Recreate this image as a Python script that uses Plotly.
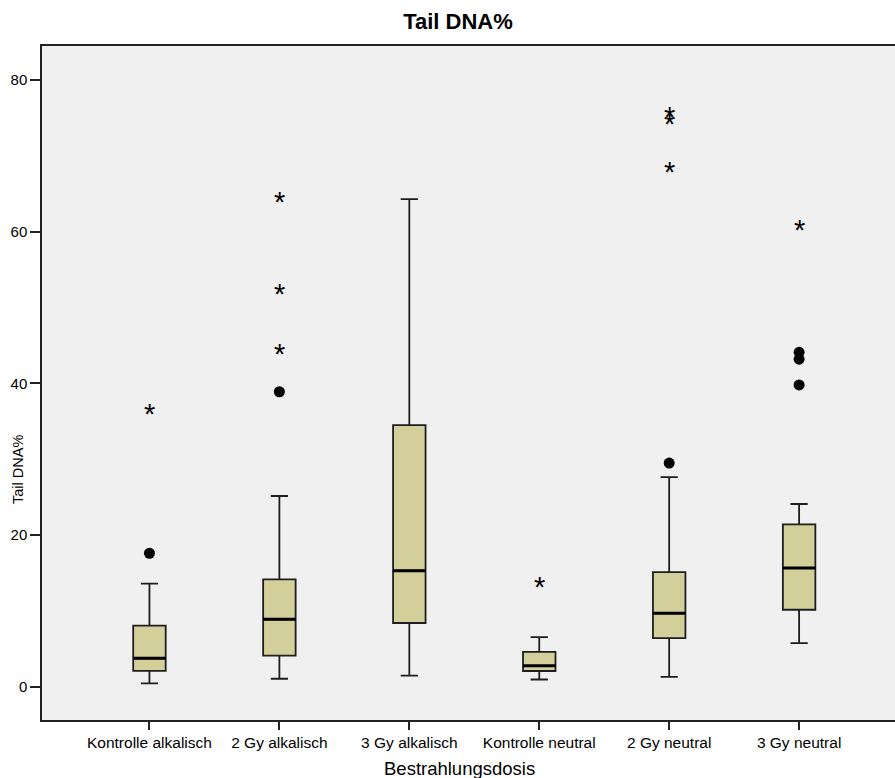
import plotly.graph_objects as go

categories = ["Kontrolle alkalisch", "2 Gy alkalisch", "3 Gy alkalisch",
              "Kontrolle neutral", "2 Gy neutral", "3 Gy neutral"]
q1 = [2.1, 4.1, 8.4, 2.07, 6.4, 10.15]
median = [3.75, 8.9, 15.3, 2.75, 9.7, 15.65]
q3 = [8.05, 14.15, 34.5, 4.6, 15.1, 21.4]
lower_whisker = [0.45, 1.05, 1.45, 0.95, 1.3, 5.75]
upper_whisker = [13.6, 25.15, 64.3, 6.55, 27.65, 24.1]

# outliers (circles) and extreme values (stars)
circle_cat = ["Kontrolle alkalisch", "2 Gy alkalisch", "2 Gy neutral",
              "3 Gy neutral", "3 Gy neutral", "3 Gy neutral"]
circle_val = [17.6, 38.9, 29.5, 44.1, 43.2, 39.8]
star_cat = ["Kontrolle alkalisch", "2 Gy alkalisch", "2 Gy alkalisch", "2 Gy alkalisch",
            "Kontrolle neutral", "2 Gy neutral", "2 Gy neutral", "2 Gy neutral",
            "3 Gy neutral"]
star_val = [36.5, 64.4, 52.3, 44.4, 13.7, 75.6, 74.7, 68.4, 60.7]

FONT = "Liberation Sans, Arial, sans-serif"
W, H = 895, 778
ML, MR, MT, MB = 42, 0, 46, 58

fig = go.Figure()
fig.add_trace(go.Box(
    x=categories, q1=q1, median=median, q3=q3,
    lowerfence=lower_whisker, upperfence=upper_whisker,
    width=0.25, whiskerwidth=0.53, boxpoints=False,
    fillcolor="#D3CF9B", line=dict(color="#1e1e1e", width=1.8),
    showlegend=False, hoverinfo="skip"))
# thicker median line
fig.add_trace(go.Box(
    x=categories, q1=median, median=median, q3=median,
    lowerfence=median, upperfence=median,
    width=0.25, whiskerwidth=0, boxpoints=False,
    fillcolor="rgba(0,0,0,0)", line=dict(color="#000000", width=3),
    showlegend=False, hoverinfo="skip"))
fig.add_trace(go.Scatter(
    x=circle_cat, y=circle_val, mode="markers",
    marker=dict(symbol="circle", size=11, color="#000000"),
    showlegend=False, hoverinfo="skip"))

for c, v in zip(star_cat, star_val):
    fig.add_annotation(x=c, y=v, text="*", showarrow=False,
                       font=dict(family=FONT, size=29, color="#000"),
                       xanchor="center", yanchor="middle", yshift=-4)

pw = W - ML - MR
ph = H - MT - MB
# y axis title
fig.add_annotation(x=(18 - ML) / pw, y=(H - MB - 470) / ph, xref="paper", yref="paper",
                   text="Tail DNA%", textangle=-90, showarrow=False,
                   xanchor="center", yanchor="middle",
                   font=dict(family=FONT, size=14.5, color="#000"))
# x axis title
fig.add_annotation(x=(459 - ML) / pw, y=(H - MB - 768) / ph, xref="paper", yref="paper",
                   text="Bestrahlungsdosis", showarrow=False,
                   xanchor="center", yanchor="middle",
                   font=dict(family=FONT, size=18.5, color="#000"))

fig.update_layout(
    width=W, height=H,
    margin=dict(l=ML, r=MR, t=MT, b=MB),
    paper_bgcolor="white", plot_bgcolor="#F0F0F0",
    font=dict(family=FONT, color="#000"),
    title=dict(text="<b>Tail DNA%</b>", x=458 / W, xref="container", xanchor="center",
               y=1 - 21 / H, yanchor="middle", font=dict(family=FONT, size=22, color="#000")),
    xaxis=dict(type="category", range=[-0.827, 5.738], showgrid=False, zeroline=False,
               automargin=False,
               showline=True, linecolor="#222", linewidth=1.5, mirror=True,
               ticks="outside", ticklen=8, tickwidth=2, tickcolor="#222",
               tickfont=dict(family=FONT, size=15.5, color="#000")),
    yaxis=dict(range=[-4.39, 84.5], tickvals=[0, 20, 40, 60, 80], showgrid=False,
               automargin=False,
               zeroline=False, showline=True, linecolor="#222", linewidth=1.5,
               ticks="outside", ticklen=10, tickwidth=2, tickcolor="#222",
               tickfont=dict(family=FONT, size=15, color="#000")),
)

fig.write_html("out.html")
